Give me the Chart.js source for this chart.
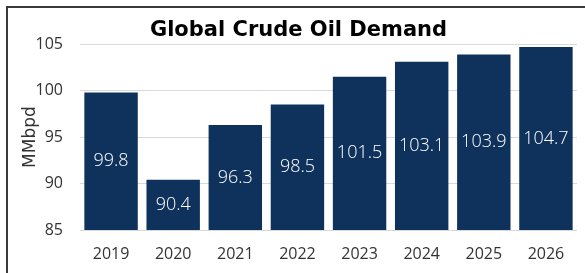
<!DOCTYPE html>
<html>
<head>
<meta charset="utf-8">
<script src="https://cdn.jsdelivr.net/npm/chart.js@4.4.1/dist/chart.umd.min.js"></script>
<style>
html,body{margin:0;padding:0;background:#fff;}
#wrap{position:relative;width:585px;height:273px;}
canvas{display:block;}
</style>
</head>
<body>
<div id="wrap"><canvas id="c" width="585" height="273"></canvas></div>
<script>
const categories = ['2019','2020','2021','2022','2023','2024','2025','2026'];
const demand = [99.8, 90.4, 96.3, 98.5, 101.5, 103.1, 103.9, 104.7];
const yTicks = [85, 90, 95, 100, 105];

const FONT = '"DejaVu Sans", sans-serif';
const LIGHT = '"Open Sans", "DejaVu Sans", sans-serif';

const framePlugin = {
  id: 'frame',
  beforeDraw(chart) {
    const ctx = chart.ctx;
    ctx.save();
    ctx.fillStyle = '#fff';
    ctx.fillRect(0, 0, chart.width, chart.height);
    ctx.strokeStyle = '#3a3a3a';
    ctx.lineWidth = 2;
    ctx.beginPath();
    ctx.moveTo(7, chart.height + 2);
    ctx.lineTo(7, 7);
    ctx.lineTo(chart.width + 2, 7);
    ctx.stroke();
    ctx.restore();
  }
};

const labelPlugin = {
  id: 'barLabels',
  afterDraw(chart) {
    const ctx = chart.ctx;
    const xs = chart.scales.x, ys = chart.scales.y;
    ctx.save();
    ctx.fillStyle = '#ffffff';
    ctx.font = '300 18px ' + LIGHT;
    ctx.textAlign = 'center';
    ctx.textBaseline = 'middle';
    demand.forEach((v, i) => {
      const top = ys.getPixelForValue(v);
      const base = ys.getPixelForValue(ys.min);
      ctx.fillText(v.toFixed(1), xs.getPixelForValue(i), (top + base) / 2);
    });
    ctx.restore();
  }
};

new Chart(document.getElementById('c'), {
  type: 'bar',
  data: {
    labels: categories,
    datasets: [{
      data: demand,
      backgroundColor: '#0F325C',
      borderWidth: 0,
      barPercentage: 0.86,
      categoryPercentage: 1.0
    }]
  },
  options: {
    responsive: false,
    animation: false,
    devicePixelRatio: 1,
    layout: { padding: { left: 20, right: 8, top: 18, bottom: 0 } },
    plugins: {
      legend: { display: false },
      tooltip: { enabled: false },
      title: {
        display: true,
        text: 'Global Crude Oil Demand',
        color: '#000',
        font: { family: FONT, size: 21, weight: 'bold' },
        padding: { top: 0, bottom: 1 }
      }
    },
    scales: {
      x: {
        grid: { display: false, drawTicks: false },
        border: { display: false },
        ticks: { color: '#333', font: { family: LIGHT, size: 16 }, padding: 15 },
        afterFit(axis) { axis.height = 43; }
      },
      y: {
        min: 85,
        max: 105,
        afterBuildTicks(axis) { axis.ticks = yTicks.map(v => ({ value: v })); },
        grid: { color: '#d9d9d9', lineWidth: 1, drawTicks: false },
        border: { display: false },
        ticks: { color: '#333', font: { family: LIGHT, size: 16 }, padding: 17 },
        title: {
          display: true,
          text: 'MMbpd',
          color: '#333',
          font: { family: FONT, size: 17 },
          padding: { top: 0, bottom: 0 }
        },
        afterFit(axis) { axis.width = 60; }
      }
    }
  },
  plugins: [framePlugin, labelPlugin]
});
</script>
</body>
</html>
